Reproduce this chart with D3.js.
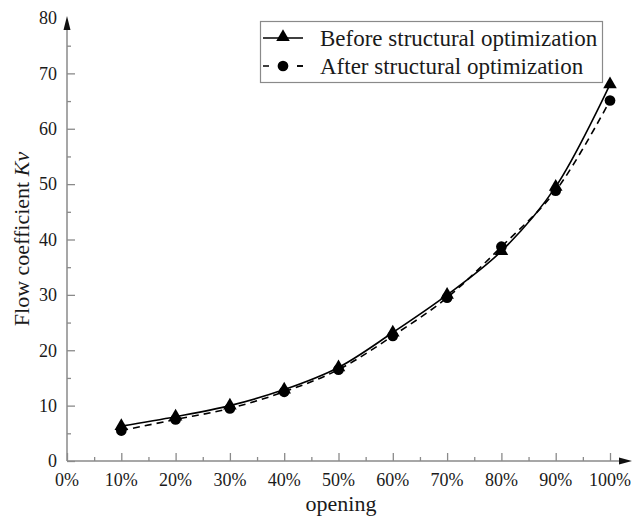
<!DOCTYPE html>
<html>
<head>
<meta charset="utf-8">
<script src="https://cdn.jsdelivr.net/npm/d3@7"></script>
<style>
  html, body { margin: 0; padding: 0; background: #fff; }
  svg { display: block; font-family: "Liberation Serif", "Times New Roman", serif; }
</style>
</head>
<body>
<svg id="chart" width="633" height="516"></svg>
<script>
// Valve opening (%) and flow coefficient Kv
const openings = [10, 20, 30, 40, 50, 60, 70, 80, 90, 100];
const kvBefore = [6.3, 8.0, 10.0, 12.9, 16.9, 23.2, 30.0, 37.9, 49.5, 68.0];
const kvAfter  = [5.5, 7.5, 9.5, 12.5, 16.5, 22.6, 29.5, 38.7, 48.8, 65.1];
const xTicks = [0, 10, 20, 30, 40, 50, 60, 70, 80, 90, 100];
const xTickLabels = ["0%", "10%", "20%", "30%", "40%", "50%", "60%", "70%", "80%", "90%", "100%"];
const yTicks = [0, 10, 20, 30, 40, 50, 60, 70, 80];
const seriesNames = ["Before structural optimization", "After structural optimization"];

const svg = d3.select("#chart");
const axisColor = "#8a8a8a";

const x = d3.scaleLinear().domain([0, 100]).range([67, 610]);
const y = d3.scaleLinear().domain([0, 80]).range([461, 18]);

// Axes: major ticks point inward, minor ticks at half steps
const xAxis = d3.axisTop(x).tickValues(xTicks).tickSize(8).tickFormat("");
const xMinor = d3.axisTop(x).tickValues(d3.range(5, 100, 10)).tickSize(4).tickFormat("");
const yAxis = d3.axisRight(y).tickValues(yTicks.slice(0, -1)).tickSize(8).tickFormat("");
const yMinor = d3.axisRight(y).tickValues(d3.range(5, 80, 10)).tickSize(4).tickFormat("");

function styleAxis(g) {
  g.select(".domain").remove();
  g.selectAll(".tick line").attr("stroke", axisColor).attr("stroke-width", 1.3);
}
svg.append("g").attr("transform", `translate(0,${y(0)})`).call(xAxis).call(styleAxis);
svg.append("g").attr("transform", `translate(0,${y(0)})`).call(xMinor).call(styleAxis);
svg.append("g").attr("transform", `translate(${x(0)},0)`).call(yAxis).call(styleAxis);
svg.append("g").attr("transform", `translate(${x(0)},0)`).call(yMinor).call(styleAxis);

// Axis lines with arrow heads
svg.append("line").attr("x1", x(0)).attr("x2", 622).attr("y1", y(0)).attr("y2", y(0))
  .attr("stroke", axisColor).attr("stroke-width", 1.5);
svg.append("line").attr("x1", x(0)).attr("x2", x(0)).attr("y1", y(0)).attr("y2", 28)
  .attr("stroke", axisColor).attr("stroke-width", 1.5);
svg.append("path").attr("d", `M632,${y(0)} L619,${y(0) - 3.5} L619,${y(0) + 3.5} Z`).attr("fill", "#111");
svg.append("path").attr("d", `M${x(0)},16 L${x(0) - 3.5},30 L${x(0) + 3.5},30 Z`).attr("fill", "#111");

// Tick labels
svg.append("g").selectAll("text").data(xTicks).join("text")
  .attr("x", d => x(d)).attr("y", 486)
  .attr("text-anchor", "middle").attr("font-size", 18).attr("fill", "#1a1a1a")
  .text((d, i) => xTickLabels[i]);
svg.append("g").selectAll("text").data(yTicks).join("text")
  .attr("x", 57).attr("y", d => y(d)).attr("dy", "0.35em")
  .attr("text-anchor", "end").attr("font-size", 18).attr("fill", "#1a1a1a")
  .text(d => d);

// Axis titles
svg.append("text").attr("x", 341).attr("y", 511).attr("text-anchor", "middle")
  .attr("font-size", 22).attr("fill", "#1a1a1a").text("opening");
const yTitle = svg.append("text")
  .attr("transform", "translate(29,239) rotate(-90)")
  .attr("text-anchor", "middle").attr("font-size", 22).attr("fill", "#1a1a1a");
yTitle.append("tspan").text("Flow coefficient ");
yTitle.append("tspan").attr("font-style", "italic").text("Kv");

// Curves
const line = d3.line().x(d => x(d[0])).y(d => y(d[1])).curve(d3.curveCatmullRom.alpha(0.5));
const before = openings.map((o, i) => [o, kvBefore[i]]);
const after = openings.map((o, i) => [o, kvAfter[i]]);

svg.append("path").datum(after).attr("d", line).attr("fill", "none")
  .attr("stroke", "#000").attr("stroke-width", 1.6).attr("stroke-dasharray", "7,5");
svg.append("path").datum(before).attr("d", line).attr("fill", "none")
  .attr("stroke", "#000").attr("stroke-width", 1.6);

const tri = d3.symbol().type(d3.symbolTriangle).size(80);
const dot = d3.symbol().type(d3.symbolCircle).size(90);

svg.append("g").selectAll("path").data(before).join("path")
  .attr("transform", d => `translate(${x(d[0])},${y(d[1])})`)
  .attr("d", tri).attr("fill", "#000");
svg.append("g").selectAll("path").data(after).join("path")
  .attr("transform", d => `translate(${x(d[0])},${y(d[1])})`)
  .attr("d", dot).attr("fill", "#000");

// Legend
const lg = svg.append("g");
lg.append("rect").attr("x", 260.5).attr("y", 21.5).attr("width", 342).attr("height", 61)
  .attr("fill", "#fff").attr("stroke", axisColor).attr("stroke-width", 1.2);
lg.append("line").attr("x1", 263).attr("x2", 303).attr("y1", 38).attr("y2", 38)
  .attr("stroke", "#000").attr("stroke-width", 1.6);
lg.append("path").attr("transform", "translate(283,37)").attr("d", tri).attr("fill", "#000");
lg.append("line").attr("x1", 263).attr("x2", 303).attr("y1", 66).attr("y2", 66)
  .attr("stroke", "#000").attr("stroke-width", 1.6).attr("stroke-dasharray", "6,28");
lg.append("line").attr("x1", 297).attr("x2", 303).attr("y1", 66).attr("y2", 66)
  .attr("stroke", "#000").attr("stroke-width", 1.6);
lg.append("path").attr("transform", "translate(283,66)").attr("d", dot).attr("fill", "#000");
lg.append("text").attr("x", 320).attr("y", 46).attr("font-size", 23).attr("fill", "#1a1a1a").text(seriesNames[0]);
lg.append("text").attr("x", 320).attr("y", 74).attr("font-size", 23).attr("fill", "#1a1a1a").text(seriesNames[1]);
</script>
</body>
</html>
